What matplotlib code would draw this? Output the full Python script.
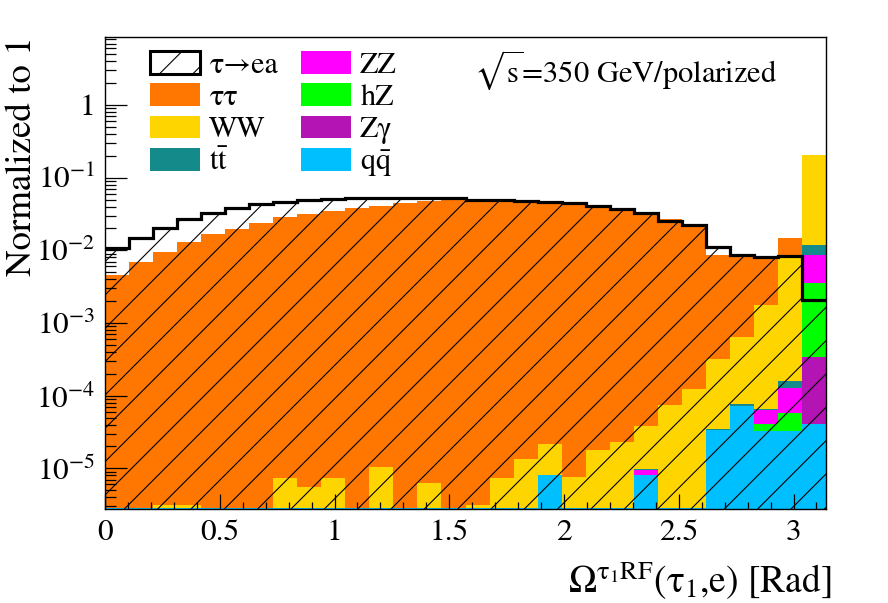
import numpy as np
import matplotlib
matplotlib.use('Agg')
import matplotlib.pyplot as plt
from matplotlib.patches import Patch
from matplotlib.ticker import MultipleLocator, LogLocator, FixedLocator, FuncFormatter, NullFormatter

plt.rcParams['font.family'] = ['STIXGeneral', 'Liberation Serif', 'DejaVu Serif']
plt.rcParams['mathtext.fontset'] = 'stix'
plt.rcParams['hatch.linewidth'] = 0.4

# ---------------- data (30 bins from 0 to pi) ----------------
n_bins = 30
x_lo, x_hi = 0.0, np.pi

signal = [0.0107, 0.0146, 0.0201, 0.0267, 0.0323, 0.0379, 0.0430, 0.0465, 0.0497, 0.0512,
          0.0530, 0.0531, 0.0530, 0.0526, 0.0518, 0.0500, 0.0490, 0.0480, 0.0465, 0.0445,
          0.0410, 0.0365, 0.0325, 0.0257, 0.0220, 0.0112, 0.0087, 0.0082, 0.0084, 0.00209]

tautau = [0.00457, 0.00698, 0.00958, 0.0129, 0.0168, 0.0196, 0.0238, 0.0285, 0.0320, 0.0350,
          0.0385, 0.0411, 0.0452, 0.0478, 0.0490, 0.0495, 0.0490, 0.0490, 0.0480, 0.0462,
          0.0425, 0.0380, 0.0335, 0.0272, 0.0218, 0.0084, 0.0075, 0.0060, 0.0063, 0.0]

ww = [0, 0, 3e-7, 3e-7, 0, 0, 0, 4.6e-6, 2.6e-6, 4.55e-6,
      0, 7.45e-6, 0, 3.35e-6, 0, 3e-7, 4.45e-6, 1.05e-5, 1.33e-5, 4.75e-6,
      1.53e-5, 2.03e-5, 2.84e-5, 7.14e-5, 1.19e-4, 2.81e-4, 5.69e-4, 1.70e-3, 8.44e-3, 0.193]

ttbar = [0] * 22 + [3e-7, 0, 0, 1.3e-6, 5e-6, 2.6e-6, 3.5e-5, 3.17e-3]
zz = [0] * 22 + [1.4e-6, 0, 0, 0, 0, 2.27e-5, 6.9e-5, 5.04e-3]
hz = [0] * 27 + [7.7e-6, 2.41e-5, 3.25e-3]
zgamma = [0] * 29 + [3.03e-4]
qqbar = [2.85e-6] * 18 + [8.1e-6, 2.85e-6, 2.85e-6, 2.85e-6, 8.1e-6, 2.85e-6, 2.85e-6,
                          3.37e-5, 7.3e-5, 3.3e-5, 3.3e-5, 4.07e-5]

y_decades = [-5, -4, -3, -2, -1, 0]

legend_labels = ['τ→ea', 'ττ', 'WW', r'$\mathrm{t\bar{t}}$',
                 'ZZ', 'hZ', 'Zγ', r'$\mathrm{q\bar{q}}$']

col_tautau = '#FF7700'
col_ww = '#FFD500'
col_tt = '#148A8A'
col_zz = '#FF00FF'
col_hz = '#00FF00'
col_zg = '#B414B4'
col_qq = '#00BFFF'

# ---------------- figure ----------------
W, H = 888, 603
dpi = 200
fig = plt.figure(figsize=(W / dpi, H / dpi), dpi=dpi)
ax_l, ax_r, ax_t, ax_b = 105, 826, 37.3, 509.3
ax = fig.add_axes([ax_l / W, 1 - ax_b / H, (ax_r - ax_l) / W, (ax_b - ax_t) / H])
ax.set_yscale('log')

edges = np.linspace(x_lo, x_hi, n_bins + 1)

layers = [(qqbar, col_qq), (zgamma, col_zg), (hz, col_hz), (zz, col_zz),
          (ttbar, col_tt), (ww, col_ww), (tautau, col_tautau)]
base = np.full(n_bins, 1e-9)
for vals, col in layers:
    top = base + np.asarray(vals, dtype=float)
    ax.stairs(top, edges, baseline=base, fill=True, facecolor=col,
              edgecolor='none', lw=0, antialiased=False)
    base = top

sig = np.asarray(signal)
ax.stairs(sig, edges, baseline=1e-9, fill=True, facecolor='none',
          edgecolor='black', hatch='//', lw=0)
ax.stairs(sig, edges, baseline=None, fill=False, color='black', lw=1.15)

ax.set_xlim(x_lo, x_hi)
ax.set_ylim(2.73e-6, 8.55)

# ticks
ax.xaxis.set_major_locator(MultipleLocator(0.5))
ax.xaxis.set_minor_locator(MultipleLocator(0.1))
ax.yaxis.set_major_locator(FixedLocator(10.0 ** np.array(y_decades, dtype=float)))
ax.yaxis.set_minor_locator(LogLocator(base=10, subs=np.arange(2, 10), numticks=20))
ax.yaxis.set_minor_formatter(NullFormatter())


def yfmt(v, pos):
    e = int(round(np.log10(v)))
    if e == 0:
        return '1'
    return r'$10^{%d}$' % e


def xfmt(v, pos):
    return ('%g' % v)


ax.yaxis.set_major_formatter(FuncFormatter(yfmt))
ax.xaxis.set_major_formatter(FuncFormatter(xfmt))
ax.tick_params(axis='both', which='both', direction='in', top=False, right=False,
               labelsize=11.3, width=0.45, color='black')
ax.tick_params(axis='x', which='major', length=5.3, pad=3.5)
ax.tick_params(axis='x', which='minor', length=2.6)
ax.tick_params(axis='y', which='major', length=7.9, pad=3.5)
ax.tick_params(axis='y', which='minor', length=4.0)
for s in ax.spines.values():
    s.set_linewidth(0.5)
    s.set_zorder(5)

# legend
colors = [None, col_tautau, col_ww, col_tt, col_zz, col_hz, col_zg, col_qq]
handles = [Patch(facecolor='white', edgecolor='black', hatch='//', lw=1.1, label=legend_labels[0])]
for lab, c in zip(legend_labels[1:], colors[1:]):
    handles.append(Patch(facecolor=c, edgecolor='none', label=lab))
fig.legend(handles=handles, ncol=2, loc='upper left',
           bbox_to_anchor=(150 / W, 1 - 51 / H), frameon=False, fontsize=10.8,
           handlelength=1.68, handleheight=0.78, handletextpad=0.3,
           labelspacing=0.12, columnspacing=0.75, borderpad=0, borderaxespad=0)

fig.text(474 / W, 1 - 70 / H, r'$\sqrt{\mathregular{s}}$=350 GeV/polarized', fontsize=11,
         ha='left', va='center')

fig.text(832 / W, 1 - 593 / H,
         r'Ω$^{\mathregular{τ_1 RF}}$(τ$_{\mathregular{1}}$,e) [Rad]',
         fontsize=13.5, ha='right', va='baseline')
fig.text(22 / W, 1 - 37 / H, 'Normalized to 1', fontsize=13.3, rotation=90,
         ha='center', va='top')

fig.savefig('out.png', dpi=dpi)
